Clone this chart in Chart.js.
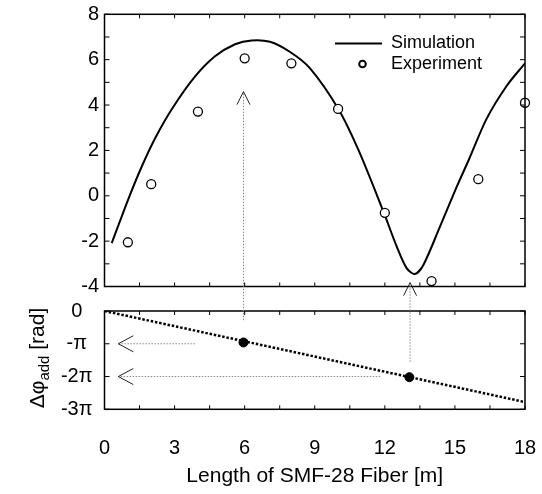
<!DOCTYPE html>
<html>
<head>
  <title>Gain Enhancement vs SMF-28 Length</title>
  <script src="https://cdn.jsdelivr.net/npm/chart.js"></script>
  <style>
    body { margin: 0; background: #fff; }
    #wrap { position: relative; width: 542px; height: 494px; }
    #wrap canvas { position: absolute; left: 0; top: 0; }
  </style>
</head>
<body>
  <div id="wrap">
    <canvas id="gainChart" width="542" height="494"></canvas>
    <canvas id="phaseChart" width="542" height="494"></canvas>
  </div>

  <script>
    const FONT = "'Liberation Sans', Arial, sans-serif";

    // top panel: gain enhancement [dB] vs fiber length [m]
    const simLength = [0.31, 1.0, 1.6, 2.2, 2.9, 3.87, 4.73, 5.59, 6.3, 7.08, 7.93, 8.8, 10.01, 10.87, 11.94, 12.51, 12.94, 13.29, 13.65, 14.36, 15.08, 15.6, 16.36, 17.22, 18];
    const simGain = [-2.09, -0.2, 1.3, 2.6, 3.85, 5.25, 6.15, 6.68, 6.85, 6.79, 6.35, 5.62, 3.83, 2.02, -0.7, -2.24, -3.2, -3.45, -3.05, -1.36, 0.4, 1.6, 3.4, 4.85, 5.84];
    const expLength = [1, 2, 4, 6, 8, 10, 12, 14, 16, 18];
    const expGain = [-2.05, 0.51, 3.71, 6.06, 5.84, 3.83, -0.75, -3.76, 0.73, 4.1];

    // bottom panel: added phase, in units of pi
    const phaseLength = [0, 18];
    const phaseShift = [0, -2.78];
    const markLength = [5.95, 13.05];
    const markPhase = [-0.96, -2.02];

    // ticks
    const lengthTicks = [0, 3, 6, 9, 12, 15, 18];
    const lengthMarks = [0, 1.5, 3, 4.5, 6, 7.5, 9, 10.5, 12, 13.5, 15, 16.5, 18];
    const gainMarks = [-4, -3, -2, -1, 0, 1, 2, 3, 4, 5, 6, 7, 8];
    const phaseTicks = [0, -1, -2, -3];
    const phaseTickLabels = ['0', '-\u03c0', '-2\u03c0', '-3\u03c0'];

    // arrows linking the two panels
    const upArrows = [
      { length: 5.95, fromPhase: -0.28, toGain: 4.59 },
      { length: 13.08, fromPhase: -1.55, toGain: -3.83 }
    ];
    const leftArrows = [
      { phase: -1, fromLength: 3.87, toLength: 0.59 },
      { phase: -2, fromLength: 11.8, toLength: 0.59 }
    ];

    Chart.defaults.font.family = FONT;
    Chart.defaults.color = '#000';

    function rotatedText(ctx, text, x, y, font) {
      ctx.save();
      ctx.translate(x, y);
      ctx.rotate(-Math.PI / 2);
      ctx.font = font;
      ctx.textAlign = 'center';
      ctx.textBaseline = 'middle';
      ctx.fillText(text, 0, 0);
      ctx.restore();
    }

    // keep the plot box exactly where the layout puts it
    function noScalePadding(s) {
      s.paddingLeft = 0;
      s.paddingRight = 0;
      s.paddingTop = 0;
      s.paddingBottom = 0;
    }

    const framePlugin = {
      id: 'frame',
      afterDatasetsDraw(chart, args, opts) {
        const { ctx, chartArea: a, scales } = chart;
        ctx.save();
        ctx.strokeStyle = '#000';
        ctx.lineWidth = 1.5;
        ctx.strokeRect(a.left, a.top, a.right - a.left, a.bottom - a.top);
        ctx.lineWidth = 1;
        ctx.beginPath();
        opts.xMarks.forEach(v => {
          const px = scales.x.getPixelForValue(v);
          ctx.moveTo(px, a.top); ctx.lineTo(px, a.top + 4);
          ctx.moveTo(px, a.bottom); ctx.lineTo(px, a.bottom - 4);
        });
        opts.yMarks.forEach(v => {
          const py = scales.y.getPixelForValue(v);
          ctx.moveTo(a.left, py); ctx.lineTo(a.left + 5, py);
          ctx.moveTo(a.right, py); ctx.lineTo(a.right - 5, py);
        });
        ctx.stroke();
        ctx.restore();
      }
    };

    const gainDecor = {
      id: 'gainDecor',
      afterDraw(chart) {
        const ctx = chart.ctx;
        const [sim, exp] = chart.data.datasets;
        rotatedText(ctx, 'Gain', 27, 131, `21px ${FONT}`);
        rotatedText(ctx, 'Enhancement [dB]', 50, 131, `21px ${FONT}`);

        ctx.save();
        ctx.strokeStyle = '#000';
        ctx.fillStyle = '#000';
        ctx.font = `18px ${FONT}`;
        ctx.textBaseline = 'middle';
        ctx.lineWidth = 2;
        ctx.beginPath();
        ctx.moveTo(335, 43.5);
        ctx.lineTo(382, 43.5);
        ctx.stroke();
        ctx.fillText(sim.label, 391, 43.5);
        ctx.beginPath();
        ctx.arc(362.5, 64, 3.3, 0, 2 * Math.PI);
        ctx.stroke();
        ctx.fillText(exp.label, 391, 64);
        ctx.restore();
      }
    };

    const gainChart = new Chart(document.getElementById('gainChart'), {
      type: 'scatter',
      data: {
        datasets: [
          {
            label: 'Simulation',
            data: simLength.map((x, i) => ({ x, y: simGain[i] })),
            showLine: true,
            borderColor: '#000',
            borderWidth: 2,
            pointRadius: 0,
            tension: 0.3,
            order: 1
          },
          {
            label: 'Experiment',
            data: expLength.map((x, i) => ({ x, y: expGain[i] })),
            pointRadius: 4.5,
            borderColor: '#000',
            backgroundColor: '#fff',
            borderWidth: 1.3,
            clip: false,
            order: 0
          }
        ]
      },
      options: {
        responsive: false,
        animation: false,
        devicePixelRatio: 1,
        layout: { autoPadding: false, padding: { left: 0, right: 17, top: 14.3, bottom: 207.5 } },
        plugins: {
          legend: { display: false },
          tooltip: { enabled: false },
          frame: { xMarks: lengthMarks, yMarks: gainMarks }
        },
        scales: {
          x: { type: 'linear', min: 0, max: 18, display: false },
          y: {
            min: -4,
            max: 8,
            ticks: { stepSize: 2, padding: 5.5, font: { size: 20 } },
            grid: { display: false, drawTicks: false },
            border: { display: false },
            afterFit(s) { s.width = 104.5; noScalePadding(s); }
          }
        }
      },
      plugins: [framePlugin, gainDecor]
    });

    function arrowHead(ctx, tx, ty, dx, dy, len, half) {
      // (dx, dy) points from the tip back along the shaft
      const nx = -dy, ny = dx;
      ctx.beginPath();
      ctx.moveTo(tx + dx * len + nx * half, ty + dy * len + ny * half);
      ctx.lineTo(tx, ty);
      ctx.lineTo(tx + dx * len - nx * half, ty + dy * len - ny * half);
      ctx.stroke();
    }

    const phaseDecor = {
      id: 'phaseDecor',
      afterDraw(chart) {
        const { ctx, scales: { x, y } } = chart;
        const gy = gainChart.scales.y;
        ctx.save();

        upArrows.forEach(a => {
          const px = x.getPixelForValue(a.length);
          const y0 = y.getPixelForValue(a.fromPhase);
          const y1 = gy.getPixelForValue(a.toGain);
          ctx.strokeStyle = '#8a8a8a';
          ctx.lineWidth = 1;
          ctx.setLineDash([1.5, 1.5]);
          ctx.beginPath();
          ctx.moveTo(px, y0);
          ctx.lineTo(px, y1);
          ctx.stroke();
          ctx.setLineDash([]);
          ctx.strokeStyle = '#222';
          arrowHead(ctx, px, y1, 0, 1, 13, 6.5);
        });

        leftArrows.forEach(a => {
          const py = y.getPixelForValue(a.phase);
          const x0 = x.getPixelForValue(a.fromLength);
          const x1 = x.getPixelForValue(a.toLength);
          ctx.strokeStyle = '#8a8a8a';
          ctx.lineWidth = 1;
          ctx.setLineDash([1.5, 1.5]);
          ctx.beginPath();
          ctx.moveTo(x0, py);
          ctx.lineTo(x1, py);
          ctx.stroke();
          ctx.setLineDash([]);
          ctx.strokeStyle = '#222';
          arrowHead(ctx, x1, py, 1, 0, 15, 8);
        });

        // y title with subscript: Δφ_add [rad]
        const big = `21px ${FONT}`, small = `15px ${FONT}`;
        ctx.fillStyle = '#000';
        ctx.font = big;
        const w1 = ctx.measureText('\u0394\u03c6').width;
        const w3 = ctx.measureText(' [rad]').width;
        ctx.font = small;
        const w2 = ctx.measureText('add').width;
        const total = w1 + w2 + w3;
        ctx.translate(37, 358);
        ctx.rotate(-Math.PI / 2);
        ctx.textBaseline = 'alphabetic';
        ctx.textAlign = 'left';
        let cx = -total / 2;
        ctx.font = big;
        ctx.fillText('\u0394\u03c6', cx, 7);
        cx += w1;
        ctx.font = small;
        ctx.fillText('add', cx, 12);
        cx += w2;
        ctx.font = big;
        ctx.fillText(' [rad]', cx, 7);
        ctx.restore();
      }
    };

    const phaseChart = new Chart(document.getElementById('phaseChart'), {
      type: 'scatter',
      data: {
        datasets: [
          {
            label: 'Added phase',
            data: phaseLength.map((x, i) => ({ x, y: phaseShift[i] })),
            showLine: true,
            borderColor: '#000',
            borderWidth: 2.5,
            borderDash: [2.5, 1.8],
            pointRadius: 0,
            order: 1
          },
          {
            label: 'Selected lengths',
            data: markLength.map((x, i) => ({ x, y: markPhase[i] })),
            pointRadius: 4.5,
            borderColor: '#000',
            backgroundColor: '#000',
            borderWidth: 1,
            clip: false,
            order: 0
          }
        ]
      },
      options: {
        responsive: false,
        animation: false,
        devicePixelRatio: 1,
        layout: { autoPadding: false, padding: { left: 0, right: 17, top: 311, bottom: 0 } },
        plugins: {
          legend: { display: false },
          tooltip: { enabled: false },
          frame: { xMarks: lengthMarks, yMarks: phaseTicks }
        },
        scales: {
          x: {
            type: 'linear',
            min: 0,
            max: 18,
            afterBuildTicks(s) { s.ticks = lengthTicks.map(v => ({ value: v })); },
            ticks: { padding: 27, font: { size: 20 } },
            grid: { display: false, drawTicks: false },
            border: { display: false },
            title: {
              display: true,
              text: 'Length of SMF-28 Fiber [m]',
              font: { size: 21 },
              padding: { top: 0, bottom: 5 }
            },
            afterFit(s) { s.height = 84.7; noScalePadding(s); }
          },
          y: {
            min: -3,
            max: 0,
            afterBuildTicks(s) { s.ticks = phaseTicks.map(v => ({ value: v })); },
            ticks: {
              padding: 12,
              crossAlign: 'center',
              font: { size: 20 },
              callback: v => phaseTickLabels[phaseTicks.indexOf(v)]
            },
            grid: { display: false, drawTicks: false },
            border: { display: false },
            afterFit(s) { s.width = 104.5; noScalePadding(s); }
          }
        }
      },
      plugins: [framePlugin, phaseDecor]
    });
  </script>
</body>
</html>
